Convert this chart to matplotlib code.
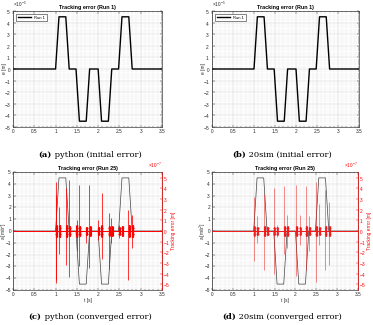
import matplotlib
matplotlib.use("Agg")
import matplotlib.pyplot as plt
import numpy as np
from matplotlib.ticker import MultipleLocator, ScalarFormatter

# ---------------- data ----------------
# reference profile breakpoints (time [s], normalised level)
prof_t = [0.0, 1.0, 1.08, 1.24, 1.32, 1.48, 1.56, 1.72, 1.80, 2.0, 2.08, 2.24, 2.32, 2.48, 2.56, 2.72, 2.80, 3.5]
prof_v = [0.0, 0.0, 4.5, 4.5, 0.0, 0.0, -4.5, -4.5, 0.0, 0.0, -4.5, -4.5, 0.0, 0.0, 4.5, 4.5, 0.0, 0.0]
init_err_scale = 1e-5      # initial tracking error in m (Run 1)
accel_scale = 1.0          # acceleration in m/s^2

# converged tracking error spikes (Run 25), values in 1e-7 m
py_spike_t  = [1.00, 1.02, 1.085, 1.25, 1.32, 1.495, 1.55, 1.715, 1.79, 2.00, 2.08, 2.25, 2.31, 2.49, 2.71, 2.785]
py_spike_lo = [-4.6, -4.9, -2.2, -3.2, -4.3, -1.9, -3.3, -1.1, -3.5, -0.8, -2.6, -3.6, -1.1, -0.7, -4.6, -1.6]
py_spike_hi = [4.6, 3.4, 2.3, 4.0, 4.8, 1.0, 4.3, 0.4, 4.3, 1.0, 3.6, 1.7, 1.2, 0.6, 2.0, 1.5]
py_fuzz_t = [1.02, 1.10, 1.26, 1.33, 1.50, 1.57, 1.73, 1.81, 2.01, 2.09, 2.26, 2.33, 2.50, 2.57, 2.73, 2.81]
py_fuzz_a = [0.6, 0.6, 0.6, 0.5, 0.6, 0.5, 0.4, 0.5, 0.4, 0.6, 0.5, 0.5, 0.4, 0.5, 0.6, 0.6]

sim_spike_t  = [1.00, 1.08, 1.25, 1.33, 1.48, 1.55, 1.73, 1.80, 2.02, 2.10, 2.25, 2.33, 2.49, 2.57, 2.72, 2.81]
sim_spike_lo = [-2.8, -1.1, -3.7, -0.5, -4.0, -0.6, -2.2, -1.6, -4.2, -1.3, -3.7, -1.9, -4.8, -1.3, -3.7, -3.2]
sim_spike_hi = [3.2, 1.4, 3.5, 0.5, 4.0, 0.6, 4.2, 1.5, 4.3, 1.5, 4.2, 1.4, 4.6, 2.5, 3.9, 2.7]
sim_fuzz_t = [1.01, 1.09, 1.26, 1.34, 1.49, 1.56, 1.74, 1.81, 2.03, 2.11, 2.26, 2.34, 2.50, 2.58, 2.73, 2.82]
sim_fuzz_a = [0.5, 0.4, 0.5, 0.4, 0.4, 0.4, 0.5, 0.5, 0.5, 0.4, 0.5, 0.4, 0.5, 0.4, 0.5, 0.5]

x_ticks = [0, 0.5, 1, 1.5, 2, 2.5, 3, 3.5]
x_tick_labels = ["0", "0.5", "1", "1.5", "2", "2.5", "3", "3.5"]
captions = [("(a)", " python (initial error)"), ("(b)", " 20sim (initial error)"),
            ("(c)", " python (converged error)"), ("(d)", " 20sim (converged error)")]

# ---------------- style ----------------
plt.rcParams['font.family'] = ['Liberation Sans', 'DejaVu Sans']
plt.rcParams['mathtext.fontset'] = 'custom'
plt.rcParams['mathtext.rm'] = 'Liberation Sans'
FS = 3.4
AXC = '#262626'

W, H = 373, 325
fig = plt.figure(figsize=(W / 100, H / 100), dpi=100)


def pos(l, r, t, b):
    return [l / W, 1 - b / H, (r - l) / W, (b - t) / H]


def style_axes(ax, xlabel=None):
    ax.set_xlim(0, 3.5)
    ax.set_ylim(-5, 5)
    ax.set_xticks(x_ticks)
    ax.set_xticklabels(x_tick_labels)
    ax.yaxis.set_major_locator(MultipleLocator(1))
    ax.xaxis.set_minor_locator(MultipleLocator(0.1))
    ax.yaxis.set_minor_locator(MultipleLocator(0.2))
    ax.grid(which='major', color='#d0d0d0', lw=0.35)
    ax.grid(which='minor', color='#ececec', lw=0.3)
    ax.set_axisbelow(True)
    ax.tick_params(which='both', direction='in', labelsize=FS, colors=AXC, width=0.35,
                   pad=1.5, top=True, right=True)
    ax.tick_params(which='major', length=1.8)
    ax.tick_params(which='minor', length=0.9)
    for s in ax.spines.values():
        s.set_linewidth(0.45)
        s.set_color(AXC)
    if xlabel:
        ax.set_xlabel(xlabel, fontsize=FS, labelpad=0.5, color=AXC)


# ---- top row: initial error ----
for (l, r, lx) in [(13, 162, 4), (212, 359, 203)]:
    ax = fig.add_axes(pos(l, r, 11, 127))
    style_axes(ax)
    ax.plot(prof_t, np.array(prof_v) * init_err_scale, color='black', lw=1.0, label='Run 1')
    ax.set_ylim(-5e-5, 5e-5)
    ax.yaxis.set_major_locator(MultipleLocator(1e-5))
    ax.yaxis.set_minor_locator(MultipleLocator(0.2e-5))
    fmt = ScalarFormatter(useMathText=True)
    fmt.set_powerlimits((0, 0))
    ax.yaxis.set_major_formatter(fmt)
    ax.yaxis.get_offset_text().set_fontsize(FS)
    ax.yaxis.get_offset_text().set_color(AXC)
    ax.set_ylabel('e [m]', fontsize=FS, color=AXC, va='center')
    ax.yaxis.set_label_coords((lx - l) / (r - l), 0.5)
    ax.set_title('Tracking error (Run 1)', fontsize=FS + 0.5, fontweight='bold', pad=1.5, color='black')
    leg = ax.legend(loc='upper left', fontsize=FS - 0.4, fancybox=False, framealpha=1,
                    edgecolor=AXC, handlelength=3.2, borderpad=0.35, borderaxespad=0.8)
    leg.get_frame().set_linewidth(0.4)

# ---- bottom row: converged error ----
bottom = [((13, 162, 4, 173), py_spike_t, py_spike_lo, py_spike_hi, py_fuzz_t, py_fuzz_a, '#ff0000', 0.55, 1.0),
          ((212, 358, 203, 370), sim_spike_t, sim_spike_lo, sim_spike_hi, sim_fuzz_t, sim_fuzz_a, '#ee1c1c', 0.45, 0.8)]
for (l, r, lx, rx), st, slo, shi, ft, fa, col, lw, al in bottom:
    ax = fig.add_axes(pos(l, r, 172, 290))
    style_axes(ax, xlabel='t [s]')
    ax.tick_params(which='both', right=False)
    ax.plot(prof_t, np.array(prof_v) * accel_scale, color='#404040', lw=0.5)
    ax.set_ylabel('a [m/s$^2$]', fontsize=FS, color=AXC, va='center')
    ax.yaxis.set_label_coords((lx - l) / (r - l), 0.5)
    ax.set_title('Tracking error (Run 25)', fontsize=FS + 0.5, fontweight='bold', pad=1.5, color='black')

    ax2 = ax.twinx()
    ax2.set_ylim(-5.55e-7, 5.55e-7)
    ax2.yaxis.set_major_locator(MultipleLocator(1e-7))
    fmt = ScalarFormatter(useMathText=True)
    fmt.set_powerlimits((0, 0))
    ax2.yaxis.set_major_formatter(fmt)
    ax2.yaxis.get_offset_text().set_fontsize(FS)
    ax2.yaxis.get_offset_text().set_color('red')
    ax2.tick_params(which='both', direction='in', labelsize=FS, colors='red', width=0.35, pad=1.0, length=1.8)
    for s in ax2.spines.values():
        s.set_linewidth(0.45)
    ax2.spines['right'].set_color('red')
    ax2.spines['left'].set_visible(False)
    ax2.spines['top'].set_visible(False)
    ax2.spines['bottom'].set_visible(False)
    ax2.set_ylabel('Tracking error [m]', fontsize=FS, color='red', va='center', rotation=90)
    ax2.yaxis.set_label_coords((rx - l) / (r - l), 0.5)
    ax2.axhline(0, color=col, lw=0.7)
    ax2.vlines(np.array(st), np.array(slo) * 1e-7, np.array(shi) * 1e-7, color=col, lw=lw, alpha=al)
    for t0, a0 in zip(ft, fa):
        offs = np.array([-0.012, -0.006, 0.0, 0.006, 0.012])
        ax2.vlines(t0 + offs, -a0 * 1e-7, a0 * 1e-7, color=col, lw=0.8, alpha=al)
        ax2.hlines([-0.25e-7, 0.25e-7], t0 - 0.025, t0 + 0.025, color=col, lw=0.8, alpha=al)

# ---- captions ----
cap_pos = [(90, 155), (282, 155), (90, 317), (282, 317)]
fig.canvas.draw()
rend = fig.canvas.get_renderer()
for (bold, rest), (cx, cy) in zip(captions, cap_pos):
    t1 = fig.text(0, cy, bold, fontsize=6.0, fontweight='bold', family='DejaVu Serif',
                  ha='left', va='center', transform=None)
    t2 = fig.text(0, cy, rest, fontsize=6.0, family='DejaVu Serif', ha='left', va='center', transform=None)
    w1 = t1.get_window_extent(rend).width
    w2 = t2.get_window_extent(rend).width
    x0 = cx - (w1 + w2) / 2
    t1.set_position((x0, H - cy))
    t2.set_position((x0 + w1, H - cy))

fig.savefig('out.png', dpi=100)
